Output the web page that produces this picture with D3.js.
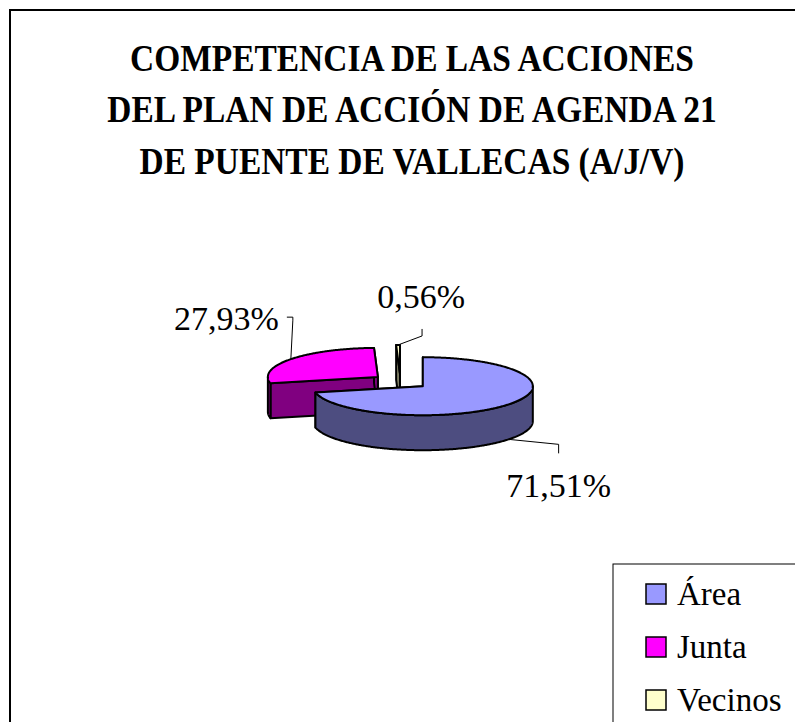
<!DOCTYPE html>
<html>
<head>
<meta charset="utf-8">
<script src="https://cdn.jsdelivr.net/npm/d3@7"></script>
<style>
  body { margin: 0; background: #fff; }
</style>
</head>
<body>
<svg id="chart" width="795" height="722"></svg>
<script>
// competencia de las acciones (A/J/V)
const titleLines = ['COMPETENCIA DE LAS ACCIONES', 'DEL PLAN DE ACCIÓN DE AGENDA 21', 'DE PUENTE DE VALLECAS (A/J/V)'];
const categories = ['Área', 'Junta', 'Vecinos'];
const values = [71.51, 27.93, 0.56];
const topColors = ['#9999FF', '#FF00FF', '#FFFFCC'];
const sideColors = ['#4D4D80', '#800080', '#808066'];

const width = 795, height = 722;
const font = "'Liberation Serif'";
const svg = d3.select('#chart');

// pie geometry (flattened ellipse, exploded slices)
const cx = 400.5, cy = 381.5;
const rx = 110, ry = 29, depth = 35;
const explode = 0.26;

// leader line bends + text position, relative to the slice anchor
const labelLayout = [
    { pts: [[50, 5], [50, 14]], text: [50, 58], anchor: 'middle' },
    { pts: [[2, -39], [2, -42], [-4, -42]], text: [-12, -29], anchor: 'end' },
    { pts: [[24, -9], [24, -16]], text: [23, -37], anchor: 'middle' }
];

const fmt = v => d3.format('.2f')(v).replace('.', ',') + '%';

// frame
svg.append('rect')
    .attr('x', 10).attr('y', 10)
    .attr('width', width).attr('height', height)
    .attr('fill', 'none')
    .attr('stroke', '#000')
    .attr('stroke-width', 2);

// title, a bit condensed like the original
const title = svg.append('g')
    .attr('transform', 'translate(412,0) scale(0.88,1)');
title.selectAll('text')
    .data(titleLines)
    .enter().append('text')
    .attr('x', 0)
    .attr('y', (d, i) => 71 + i * 51.5)
    .attr('text-anchor', 'middle')
    .style('font-family', font)
    .style('font-size', '38px')
    .style('font-weight', 'bold')
    .text(d => d);

const pie = d3.pie().sort(null).startAngle(0).endAngle(2 * Math.PI);
const arcs = pie(values).map((d, i) => {
    const mid = (d.startAngle + d.endAngle) / 2;
    d.i = i;
    d.mid = mid;
    d.x = cx + explode * rx * Math.sin(mid);
    d.y = cy - explode * ry * Math.cos(mid);
    return d;
});

function pt(d, a, dy) {
    return [d.x + rx * Math.sin(a), d.y - ry * Math.cos(a) + (dy || 0)];
}

function arcPoints(d, a0, a1, dy) {
    const n = Math.max(2, Math.ceil((a1 - a0) / 0.01));
    return d3.range(n + 1).map(k => pt(d, a0 + (a1 - a0) * k / n, dy));
}

const line = d3.line();

// back slices first
const order = arcs.slice().sort((a, b) => a.y - b.y);

const g = svg.append('g');
order.forEach(d => {
    const s = g.append('g');

    // radial cut faces
    [d.startAngle, d.endAngle].forEach(a => {
        const e = pt(d, a);
        s.append('path')
            .attr('d', line([[d.x, d.y], e, [e[0], e[1] + depth], [d.x, d.y + depth]]) + 'Z')
            .attr('fill', sideColors[d.i])
            .attr('stroke', '#000')
            .attr('stroke-width', 2)
            .attr('stroke-linejoin', 'round');
    });

    // outer wall, only the front half shows
    const a0 = Math.max(d.startAngle, Math.PI / 2);
    const a1 = Math.min(d.endAngle, Math.PI * 1.5);
    if (a1 > a0) {
        const wall = arcPoints(d, a0, a1, 0).concat(arcPoints(d, a0, a1, depth).reverse());
        s.append('path')
            .attr('d', line(wall) + 'Z')
            .attr('fill', sideColors[d.i])
            .attr('stroke', '#000')
            .attr('stroke-width', 2)
            .attr('stroke-linejoin', 'round');
    }

    // top face
    const top = [[d.x, d.y]].concat(arcPoints(d, d.startAngle, d.endAngle, 0));
    s.append('path')
        .attr('d', line(top) + 'Z')
        .attr('fill', topColors[d.i])
        .attr('stroke', '#000')
        .attr('stroke-width', 2)
        .attr('stroke-linejoin', 'round');
});

// data labels with leader lines
arcs.forEach(d => {
    const front = Math.cos(d.mid) < 0;
    const a = pt(d, d.mid, front ? depth : 0);
    const L = labelLayout[d.i];
    const pts = [a].concat(L.pts.map(p => [a[0] + p[0], a[1] + p[1]]));
    svg.append('path')
        .attr('d', line(pts))
        .attr('fill', 'none')
        .attr('stroke', '#000')
        .attr('stroke-width', 1);
    svg.append('text')
        .attr('x', a[0] + L.text[0])
        .attr('y', a[1] + L.text[1])
        .attr('text-anchor', L.anchor)
        .style('font-family', font)
        .style('font-size', '34px')
        .text(fmt(values[d.i]));
});

// legend
const legend = svg.append('g').attr('transform', 'translate(613,564)');
legend.append('rect')
    .attr('width', 200).attr('height', 200)
    .attr('fill', '#fff')
    .attr('stroke', '#000')
    .attr('stroke-width', 1);

const row = d3.scalePoint().domain(categories).range([41, 147]);
const item = legend.selectAll('g.item')
    .data(categories)
    .enter().append('g')
    .attr('class', 'item')
    .attr('transform', d => 'translate(0,' + row(d) + ')');
item.append('rect')
    .attr('x', 33).attr('y', -21)
    .attr('width', 20).attr('height', 20)
    .attr('fill', (d, i) => topColors[i])
    .attr('stroke', '#000')
    .attr('stroke-width', 1.5);
item.append('text')
    .attr('x', 64)
    .attr('y', 0)
    .style('font-family', font)
    .style('font-size', '33px')
    .text(d => d);
</script>
</body>
</html>
